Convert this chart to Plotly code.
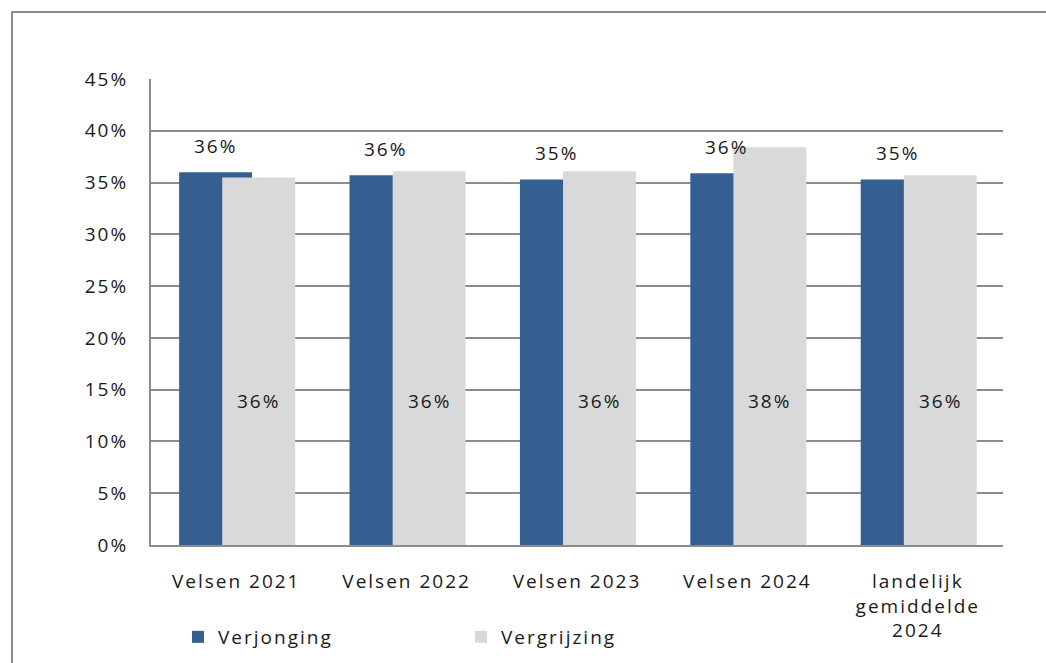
import plotly.graph_objects as go

categories = ["Velsen 2021", "Velsen 2022", "Velsen 2023", "Velsen 2024",
              "landelijk<br>gemiddelde<br>2024"]
verjonging = [36.0, 35.7, 35.3, 35.9, 35.3]
vergrijzing = [35.5, 36.1, 36.1, 38.4, 35.7]
y_ticks = [0, 5, 10, 15, 20, 25, 30, 35, 40, 45]

W, H = 1046, 663
ML, MR, MT, MB = 151, 43, 79, 118
PW, PH = W - ML - MR, H - MT - MB

BLUE = "#365F91"
GRAY = "#D9D9D9"
FONT = "Open Sans"
FS = 19
TXT = "#1a1a1a"
BAR_W = 0.428
OFF_V = -0.335
OFF_G = -0.082
INNER_LABEL_LEVEL = 13.9  # height at which the Vergrijzing labels sit inside the bars

xs = list(range(len(categories)))

fig = go.Figure()
fig.add_trace(go.Bar(x=xs, y=verjonging, name="Verjonging", marker_color=BLUE,
                     marker_line_width=0, width=BAR_W, offset=OFF_V))
fig.add_trace(go.Bar(x=xs, y=vergrijzing, name="Vergrijzing", marker_color=GRAY,
                     marker_line_width=0, width=BAR_W, offset=OFF_G))

annotations = []
for i, v in zip(xs, verjonging):
    annotations.append(dict(x=i + OFF_V + BAR_W / 2, y=v, yshift=26, text=f"{v:.0f}%",
                            showarrow=False, font=dict(family=FONT, size=FS, color=TXT)))
for i, v in zip(xs, vergrijzing):
    annotations.append(dict(x=i + OFF_G + BAR_W / 2, y=INNER_LABEL_LEVEL, text=f"{v:.0f}%",
                            showarrow=False, font=dict(family=FONT, size=FS, color=TXT)))

def px_x(p):
    return (p - ML) / PW

def px_y(p):
    return (H - MB - p) / PH

fig.update_layout(
    width=W, height=H,
    margin=dict(l=ML, r=MR, t=MT, b=MB, autoexpand=False),
    paper_bgcolor="white", plot_bgcolor="white",
    barmode="overlay",
    font=dict(family=FONT, size=FS, color=TXT),
    annotations=annotations,
    showlegend=True,
    legend=dict(orientation="h", x=px_x(178), y=px_y(637), xanchor="left", yanchor="middle",
                entrywidth=238, entrywidthmode="pixels",
                font=dict(family=FONT, size=FS, color=TXT), bgcolor="rgba(0,0,0,0)"),
    xaxis=dict(range=[-0.5, len(categories) - 0.5], tickmode="array", tickvals=xs,
               ticktext=categories, showgrid=False, showline=True, linecolor="#8c8c8c",
               linewidth=2, ticks="", ticklabelstandoff=18, automargin=False,
               tickfont=dict(family=FONT, size=FS, color=TXT)),
    yaxis=dict(range=[0, 45], tickmode="array", tickvals=y_ticks,
               ticktext=[f"{t}%" for t in y_ticks], showgrid=True, gridcolor="#8c8c8c",
               gridwidth=1.5, zeroline=False, showline=True, linecolor="#8c8c8c",
               linewidth=2, ticks="", ticklabelstandoff=17, automargin=False,
               tickfont=dict(family=FONT, size=FS, color=TXT)),
    shapes=[dict(type="rect", xref="paper", yref="paper",
                 x0=px_x(12), x1=px_x(1060), y0=px_y(680), y1=px_y(12),
                 line=dict(color="#8c8c8c", width=2), fillcolor="rgba(0,0,0,0)", layer="below")],
)

post = """
document.body.style.margin = '0px';
var gd = document.getElementById('{plot_id}');
function spaceText() {
  gd.querySelectorAll('text').forEach(function (t) { t.style.letterSpacing = '2px'; });
}
spaceText();
if (gd.on) { gd.on('plotly_afterplot', spaceText); }
setTimeout(spaceText, 50);
"""

fig.write_html("out.html", post_script=post, config={"displayModeBar": False})
